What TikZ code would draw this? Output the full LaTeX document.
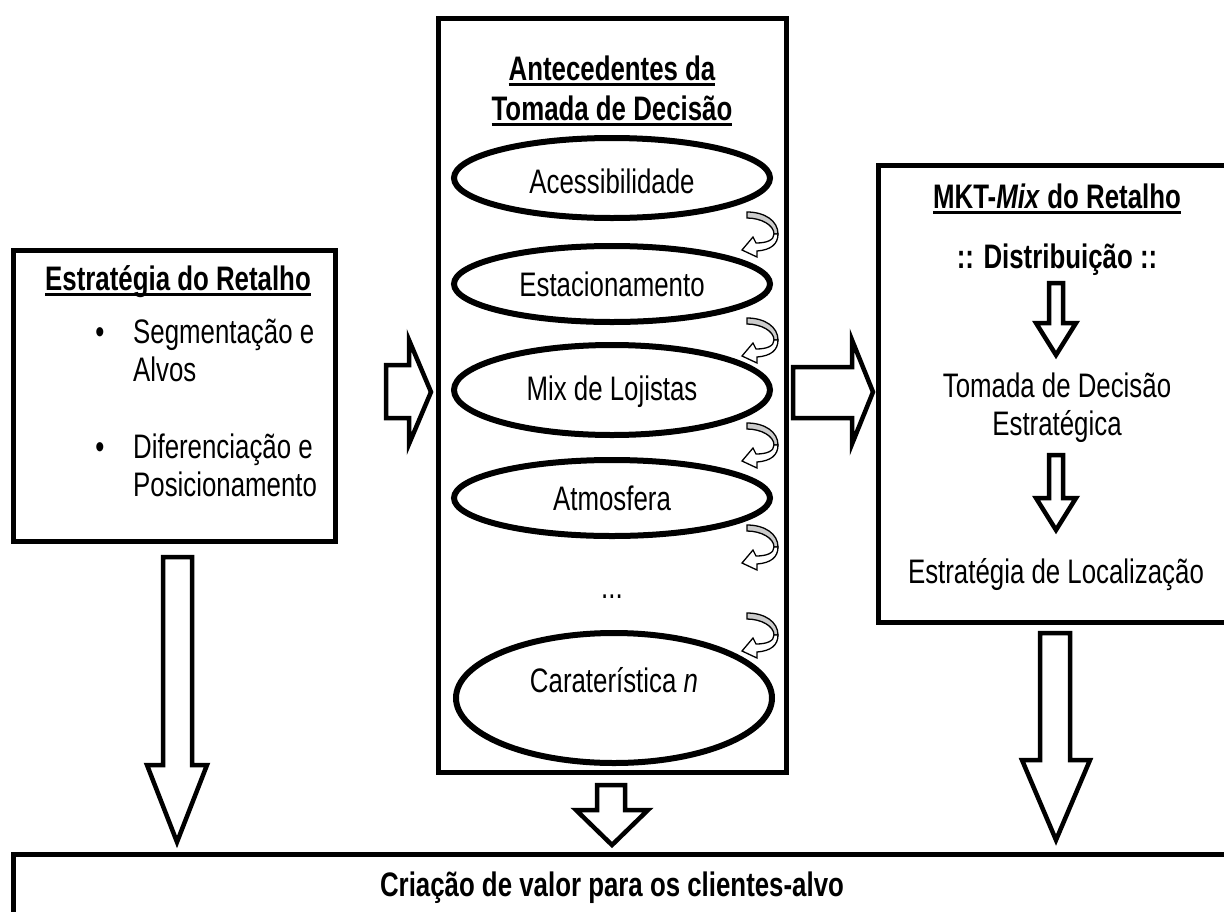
\documentclass[tikz,border=0pt]{standalone}
\usepackage{fontspec}
\setmainfont{Liberation Sans}[FakeStretch=0.76]
\usetikzlibrary{shapes.geometric}
\newcommand\ulx[1]{\setbox0\hbox{#1}\rlap{\rule[-6pt]{\wd0}{3pt}}\box0}
\begin{document}
\begin{tikzpicture}[x=1pt,y=-1pt,
  box/.style={draw,line width=5pt,fill=white},
  oval/.style={draw,ellipse,line width=6pt,inner sep=0pt,minimum width=316pt},
  barrow/.style={draw,line width=4.5pt,fill=white,line join=miter},
  txt/.style={anchor=base,inner sep=0pt,font=\fontsize{34}{40}\selectfont},
  btxt/.style={txt,font=\fontsize{34}{40}\selectfont\bfseries},
  curvarr/.pic={
    \filldraw[fill=gray!40,draw=black,line width=1.3pt] (0,0) .. controls (18,0) and (31,9) .. (31,22) -- (27,22) .. controls (27,13) and (14,6) .. (0,6) -- cycle;
    \filldraw[fill=white,draw=black,line width=1.3pt,line join=miter] (27,22) .. controls (27,28) and (20,31) .. (9,31) -- (6,25) -- (-5,38) -- (10,45) -- (10,39) .. controls (24,38) and (31,32) .. (31,22) -- cycle;
  }]
\useasboundingbox (0,0) rectangle (1224,911);
\clip (0,0) rectangle (1224,911);

% boxes
\draw[box] (13,250) rectangle (335,541);
\draw[box] (438,18) rectangle (786,772);
\draw[box] (878,165) rectangle (1235,622);
\draw[box] (13,854) rectangle (1235,940);

% left box text
\node[btxt] (lt) at (178,290) {\ulx{Estratégia do Retalho}};
\node[txt] (b1) at (100,343) {•};
\node[txt,anchor=base west] (l1) at (133,343) {Segmentação e};
\node[txt,anchor=base west] (l2) at (133,381) {Alvos};
\node[txt] (b2) at (100,458) {•};
\node[txt,anchor=base west] (l3) at (133,458) {Diferenciação e};
\node[txt,anchor=base west] (l4) at (133,496) {Posicionamento};

% centre box
\node[btxt] (ct1) at (612,80) {\ulx{Antecedentes da}};
\node[btxt] (ct2) at (612,120) {\ulx{Tomada de Decisão}};
\node[oval,minimum height=80pt] (e1) at (612,178) {};
\node[oval,minimum height=76pt] (e2) at (612,284) {};
\node[oval,minimum height=90pt] (e3) at (612,390) {};
\node[oval,minimum height=76pt] (e4) at (612,498) {};
\node[oval,minimum height=130pt] (e5) at (614,698) {};
\node[txt] (t1) at (612,193) {Acessibilidade};
\node[txt] (t2) at (612,296) {Estacionamento};
\node[txt] (t3) at (612,400) {Mix de Lojistas};
\node[txt] (t4) at (612,510) {Atmosfera};
\node[txt] (t5) at (612,598) {...};
\node[txt] (t6) at (614,692) {Caraterística \textit{n}};
\pic at (747,212) {curvarr};
\pic at (747,318) {curvarr};
\pic at (747,423) {curvarr};
\pic at (747,525) {curvarr};
\pic at (747,613) {curvarr};

% right box
\node[btxt] (rt) at (1057,208) {\ulx{MKT-\textit{Mix} do Retalho}};
\node[btxt] (rd) at (1057,268) {:: Distribuição ::};
\node[txt] (r1) at (1057,397) {Tomada de Decisão};
\node[txt] (r2) at (1057,435) {Estratégica};
\node[txt] (r3) at (1056,583) {Estratégia de Localização};
\draw[barrow] (1049,283) -- (1063,283) -- (1063,323) -- (1076,323) -- (1056,355) -- (1036,323) -- (1049,323) -- cycle;
\draw[barrow] (1049,455) -- (1063,455) -- (1063,498) -- (1076,498) -- (1056,530) -- (1036,498) -- (1049,498) -- cycle;

% bottom box text
\node[btxt] (bt) at (612,896) {Criação de valor para os clientes-alvo};

% block arrows
\draw[barrow] (386,365) -- (409,365) -- (409,340) -- (431,392) -- (409,444) -- (409,418) -- (386,418) -- cycle;
\draw[barrow] (793,367) -- (852,367) -- (852,340) -- (873,392) -- (852,444) -- (852,418) -- (793,418) -- cycle;
\draw[barrow] (163,557) -- (192,557) -- (192,765) -- (207,765) -- (177,842) -- (147,765) -- (163,765) -- cycle;
\draw[barrow] (597,785) -- (625,785) -- (625,810) -- (648,810) -- (612,845) -- (576,810) -- (597,810) -- cycle;
\draw[barrow] (1040,633) -- (1070,633) -- (1070,760) -- (1090,760) -- (1056,840) -- (1022,760) -- (1040,760) -- cycle;
\end{tikzpicture}
\end{document}
